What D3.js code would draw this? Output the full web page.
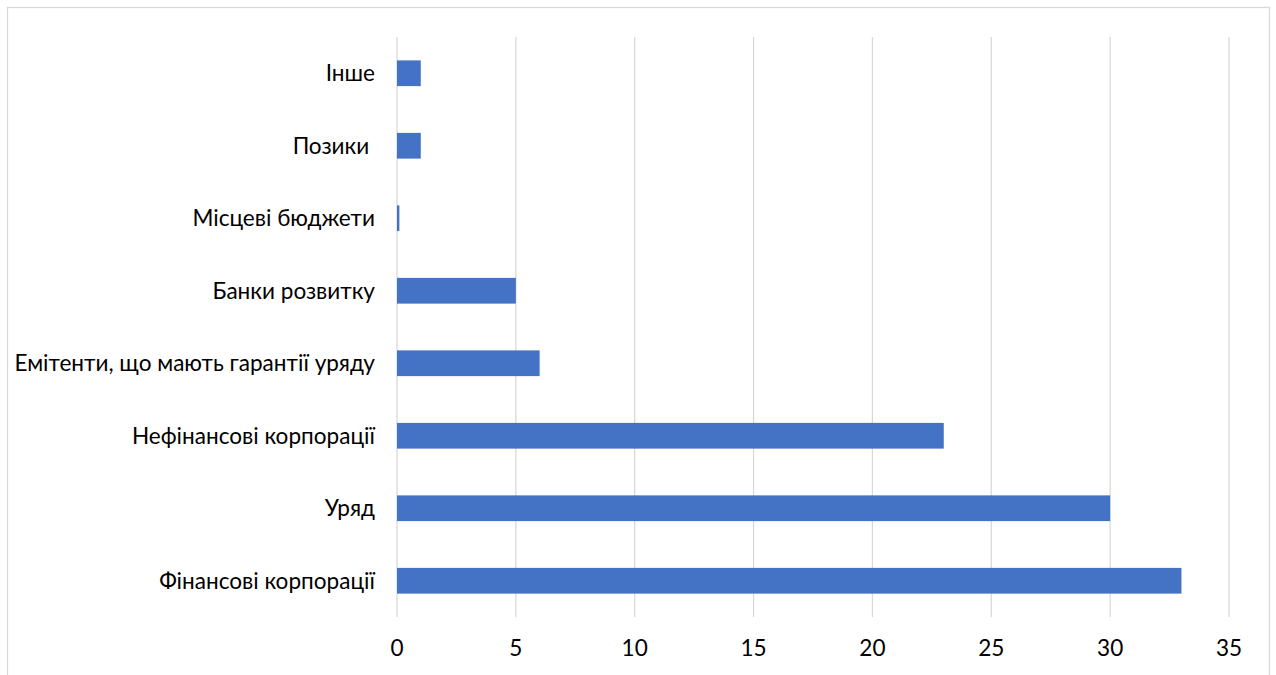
<!DOCTYPE html>
<html><head><meta charset="utf-8">
<script src="https://cdn.jsdelivr.net/npm/d3@7/dist/d3.min.js"></script>
<style>body{margin:0;background:#fff}svg{display:block}text{white-space:pre}</style>
</head><body>
<svg id="c" width="1276" height="675"></svg>
<script>
const categories = ["Фінансові корпорації","Уряд","Нефінансові корпорації","Емітенти, що мають гарантії уряду","Банки розвитку","Місцеві бюджети","Позики ","Інше"];
const values = [33,30,23,6,5,0.1,1,1];
const ticks = [0,5,10,15,20,25,30,35];

const svg = d3.select("#c");
const font = "Lato, 'Noto Sans', sans-serif";
svg.append("rect").attr("x",7.5).attr("y",7.5).attr("width",1262).attr("height",700)
  .attr("fill","#fff").attr("stroke","#d9d9d9").attr("stroke-width",1.3);

const x = d3.scaleLinear().domain([0,35]).range([397,1229]);
const y = d3.scaleBand().domain(categories.slice().reverse()).range([37,617]).paddingInner(0.645).paddingOuter(0.3225);

// font fit
const probe = svg.append("text").attr("font-family",font).attr("font-size",20).text("Фінансові корпорації");
const w = probe.node().getComputedTextLength(); probe.remove();
const fs = 20*216/w;

svg.append("g").selectAll("line").data(ticks).join("line")
  .attr("x1",d=>x(d)).attr("x2",d=>x(d)).attr("y1",37).attr("y2",617)
  .attr("stroke","#d9d9d9").attr("stroke-width",1.3);

svg.append("g").selectAll("rect").data(categories).join("rect")
  .attr("x",x(0)).attr("y",d=>y(d)).attr("height",y.bandwidth())
  .attr("width",(d,i)=>x(values[i])-x(0)).attr("fill","#4472c4");

svg.append("g").selectAll("text").data(categories).join("text")
  .attr("x",375).attr("y",d=>y(d)+y.bandwidth()/2).attr("dy","0.35em")
  .attr("text-anchor","end").attr("font-family",font).attr("font-size",fs).attr("fill","#000")
  .text(d=>d);

svg.append("g").selectAll("text").data(ticks).join("text")
  .attr("x",d=>x(d)).attr("y",648).attr("dy","0.35em")
  .attr("text-anchor","middle").attr("font-family",font).attr("font-size",fs).attr("fill","#000")
  .text(d=>d);
</script>
</body></html>
